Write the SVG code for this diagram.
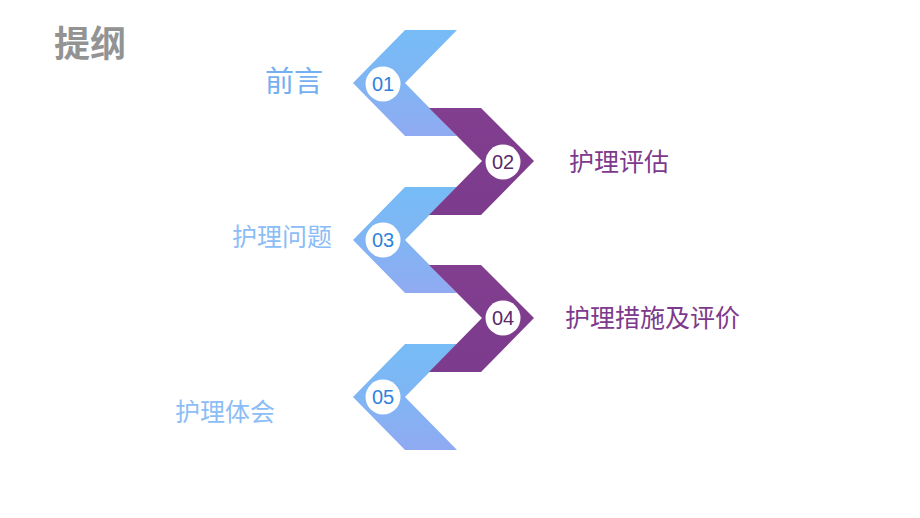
<svg xmlns="http://www.w3.org/2000/svg" width="920" height="518" viewBox="0 0 920 518">
<defs>
<linearGradient id="gb" x1="0" y1="0" x2="0" y2="1">
<stop offset="0" stop-color="#76bcf6"/>
<stop offset="0.5" stop-color="#80b5f4"/>
<stop offset="1" stop-color="#90aaf2"/>
</linearGradient>
<linearGradient id="gp" x1="0" y1="0" x2="0" y2="1">
<stop offset="0" stop-color="#823e8f"/>
<stop offset="1" stop-color="#7c3b8d"/>
</linearGradient>
</defs>
<style>
.cb{fill:url(#gb)}
.cp{fill:url(#gp)}
.dot{fill:#ffffff}
.nb{font-family:"Liberation Sans",Arial,sans-serif;font-size:20px;fill:#2f82dc;text-anchor:middle}
.np{font-family:"Liberation Sans",Arial,sans-serif;font-size:20px;fill:#5a2a68;text-anchor:middle}
.lb{font-family:"Noto Sans CJK SC",sans-serif;font-size:25px;fill:#8cbdf6;text-anchor:end}
.lp{font-family:"Noto Sans CJK SC",sans-serif;font-size:25px;fill:#7d3a8c;text-anchor:start}
</style>
<rect width="920" height="518" fill="#ffffff"/>
<text x="54" y="57" style="font-family:'Noto Sans CJK SC',sans-serif;font-size:36px;font-weight:bold;fill:#939393">提纲</text>
<g id="connectors"></g>
<g id="n01">
<polygon class="cb" points="405,30 457,30 405,83 457,136 405,136 353,83"/>
<circle class="dot" cx="383" cy="84" r="17.5"/>
<text class="nb" x="383" y="91">01</text>
<text class="lb" x="323" y="92" style="font-size:29px;fill:#73aff1">前言</text>
</g>
<g id="n03">
<polygon class="cb" points="405,187 457,187 405,240 457,293 405,293 353,240"/>
<circle class="dot" cx="383" cy="240" r="17.5"/>
<text class="nb" x="383" y="247">03</text>
<text class="lb" x="332" y="246">护理问题</text>
</g>
<g id="n05">
<polygon class="cb" points="405,344 457,344 405,397 457,450 405,450 353,397"/>
<circle class="dot" cx="383" cy="397" r="17.5"/>
<text class="nb" x="383" y="404">05</text>
<text class="lb" x="275" y="421">护理体会</text>
</g>
<g id="n02">
<polygon class="cp" points="429,108 481,108 534,161 481,215 429,215 482,161"/>
<circle class="dot" cx="503" cy="162" r="17.5"/>
<text class="np" x="503" y="169">02</text>
<text class="lp" x="569" y="171">护理评估</text>
</g>
<g id="n04">
<polygon class="cp" points="429,265 481,265 534,318 481,372 429,372 482,318"/>
<circle class="dot" cx="503" cy="318" r="17.5"/>
<text class="np" x="503" y="325">04</text>
<text class="lp" x="565" y="327">护理措施及评价</text>
</g>
</svg>
